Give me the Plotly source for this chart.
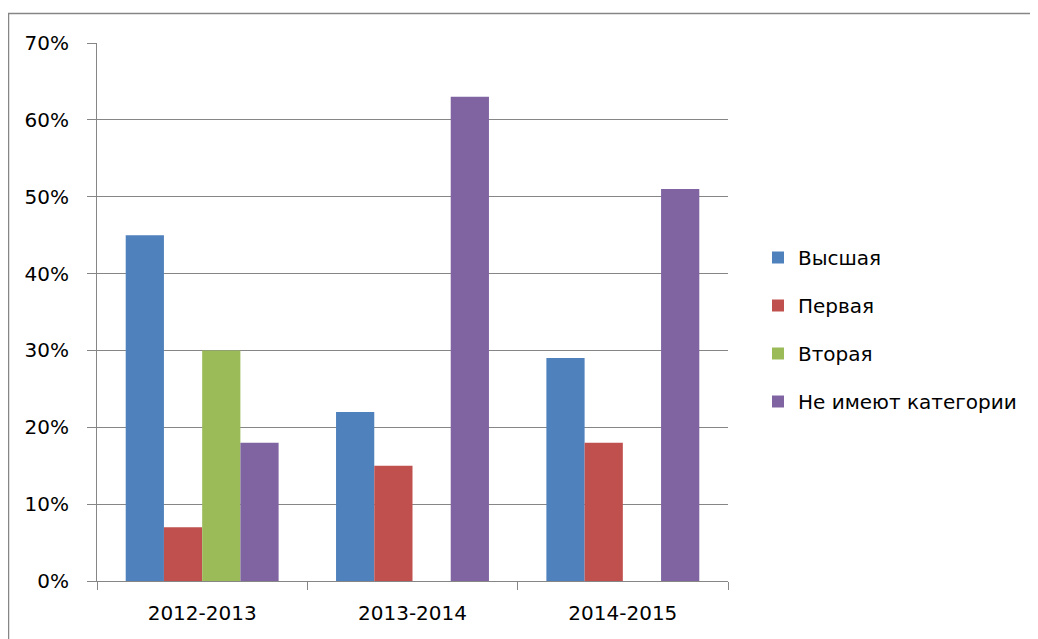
import plotly.graph_objects as go

categories = ["2012-2013", "2013-2014", "2014-2015"]
series_names = ["Высшая", "Первая", "Вторая", "Не имеют категории"]
vysshaya = [0.45, 0.22, 0.29]
pervaya = [0.07, 0.15, 0.18]
vtoraya = [0.30, None, None]
net_kat = [0.18, 0.63, 0.51]
y_ticks = [0, 0.1, 0.2, 0.3, 0.4, 0.5, 0.6, 0.7]

colors = ["#4F81BD", "#C0504D", "#9BBB59", "#8064A2"]
values = [vysshaya, pervaya, vtoraya, net_kat]

FONT = "DejaVu Sans"
FS = 20
# page has an 8px body margin, so figure coords = page coords - 8
W, H = 1030, 631
L, T = 89, 35
PR, PB = 720, 573  # plot right / bottom in figure coords
R, B = W - PR, H - PB
pw, ph = PR - L, PB - T

fig = go.Figure()
for i, (name, vals) in enumerate(zip(series_names, values)):
    fig.add_trace(go.Bar(
        x=categories, y=vals, name=name,
        marker=dict(color=colors[i], line=dict(width=0)),
        legendgroup=f"g{i}",
    ))

fig.update_layout(
    width=W, height=H,
    margin=dict(l=L, r=R, t=T, b=B),
    paper_bgcolor="white", plot_bgcolor="white",
    barmode="group", bargap=0.273, bargroupgap=0,
    font=dict(family=FONT, size=FS, color="black"),
    showlegend=True,
    legend=dict(
        x=(750 - L) / pw, y=(PB - 230) / ph, xanchor="left", yanchor="top",
        font=dict(family=FONT, size=FS, color="black"),
        traceorder="grouped", tracegroupgap=19,
        itemwidth=30, bgcolor="rgba(0,0,0,0)",
    ),
    xaxis=dict(
        type="category", showgrid=False,
        showline=True, linecolor="#868686", linewidth=1,
        ticks="outside", tickson="boundaries", ticklen=8, tickcolor="#868686",
        tickfont=dict(family=FONT, size=FS, color="black"),
        ticklabelstandoff=14,
    ),
    yaxis=dict(
        range=[0, 0.7], tickvals=y_ticks, tickformat=".0%",
        showgrid=True, gridcolor="#868686", gridwidth=1,
        showline=True, linecolor="#868686", linewidth=1,
        ticks="outside", ticklen=9, tickcolor="#868686",
        tickfont=dict(family=FONT, size=FS, color="black"),
        ticklabelstandoff=14,
        zeroline=False,
    ),
    shapes=[dict(
        type="rect", xref="paper", yref="paper",
        x0=(0.5 - L) / pw, x1=(1031 - L) / pw,
        y0=-0.3, y1=(PB - 5.5) / ph,
        line=dict(color="#868686", width=1.5), fillcolor="rgba(0,0,0,0)",
        layer="below",
    )],
)

fig.write_html("out.html")
